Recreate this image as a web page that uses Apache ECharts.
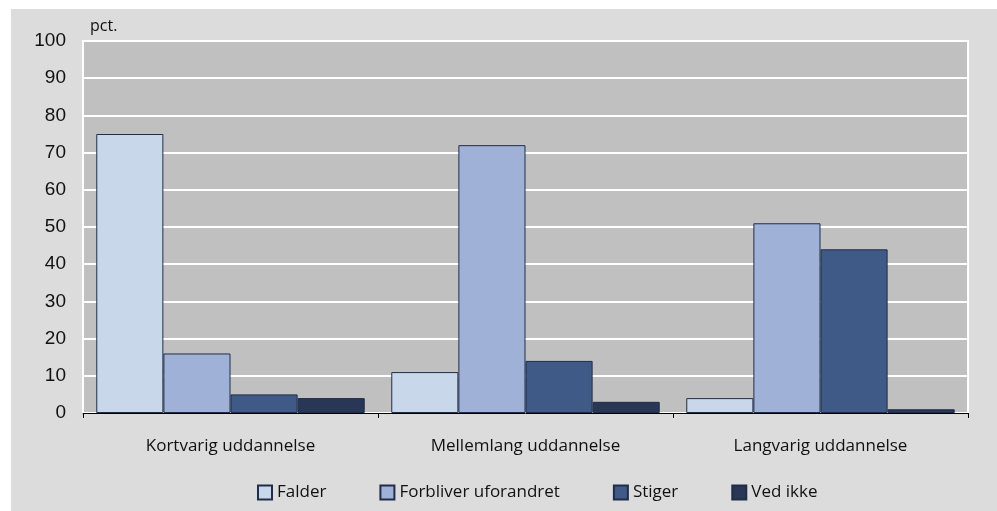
<!DOCTYPE html>
<html>
<head>
<meta charset="utf-8">
<script src="https://cdn.jsdelivr.net/npm/echarts@6/dist/echarts.min.js"></script>
<style>
html,body{margin:0;padding:0;background:#ffffff;}
#bg{position:absolute;left:11px;top:9px;width:986px;height:502px;background:#dcdcdc;}
#chart{position:absolute;left:0;top:0;width:997px;height:511px;}
</style>
</head>
<body>
<div id="bg"></div>
<div id="chart"></div>
<script>
const categories = ['Kortvarig uddannelse', 'Mellemlang uddannelse', 'Langvarig uddannelse'];
const falder = [75, 11, 4];
const forbliver = [16, 72, 51];
const stiger = [5, 14, 44];
const vedIkke = [4, 3, 1];
const seriesNames = ['Falder', 'Forbliver uforandret', 'Stiger', 'Ved ikke'];
const seriesColors = ['#c9d7ea', '#9fb1d6', '#3f5a87', '#283755'];
const seriesData = [falder, forbliver, stiger, vedIkke];

const chart = echarts.init(document.getElementById('chart'), null, {renderer: 'canvas'});
chart.setOption({
  animation: false,
  textStyle: {fontFamily: 'Open Sans'},
  grid: {left: 83, top: 41, right: 29, bottom: 98, show: true, backgroundColor: '#c0c0c0', borderColor: '#ffffff', borderWidth: 2},
  graphic: [{type: 'text', left: 90, top: 18, style: {text: 'pct.', font: '16px "Open Sans"', fill: '#111'}}],
  legend: {
    left: 257, top: 484, padding: 0, itemWidth: 14, itemHeight: 14, itemGap: 53,
    icon: 'rect',
    textStyle: {fontSize: 17, color: '#111', fontFamily: 'Open Sans'},
    data: seriesNames
  },
  xAxis: {
    type: 'category', data: categories,
    axisLine: {lineStyle: {color: '#000', width: 1}},
    axisTick: {show: true, length: 5, lineStyle: {color: '#000'}},
    axisLabel: {color: '#111', fontSize: 17, margin: 25, fontFamily: 'Open Sans'}
  },
  yAxis: {
    type: 'value', min: 0, max: 100, interval: 10,
    axisLine: {show: false}, axisTick: {show: false},
    axisLabel: {color: '#111', fontSize: 19, margin: 17, fontFamily: 'Liberation Sans'},
    splitLine: {lineStyle: {color: '#ffffff', width: 2}}
  },
  series: seriesNames.map((n, i) => ({
    name: n, type: 'bar', data: seriesData[i],
    barGap: '0%', barCategoryGap: '9%',
    itemStyle: {color: seriesColors[i], borderColor: '#1f2d4a', borderWidth: 1}
  }))
});
</script>
</body>
</html>
